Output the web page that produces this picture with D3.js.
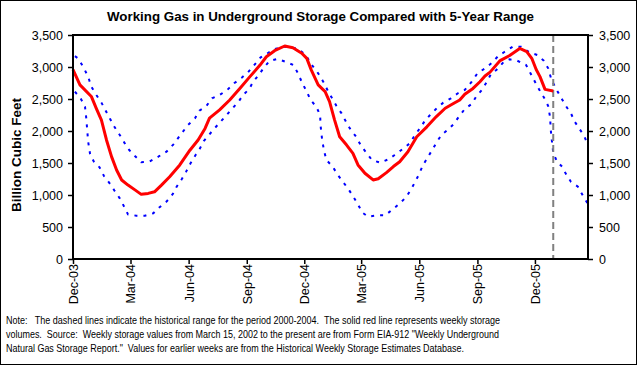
<!DOCTYPE html>
<html>
<head>
<meta charset="utf-8">
<script src="https://cdn.jsdelivr.net/npm/d3@7"></script>
<style>
  html, body { margin: 0; padding: 0; background: #fff; }
  svg { display: block; }
  text { font-family: "Liberation Sans", Arial, sans-serif; }
  .note { white-space: pre; }
</style>
</head>
<body>
<svg id="chart" width="638" height="366"></svg>
<script>
// ---------- DATA ----------
const titleText = "Working Gas in Underground Storage Compared with 5-Year Range";
const yAxisTitle = "Billion Cubic Feet";
const yTicks = [0, 500, 1000, 1500, 2000, 2500, 3000, 3500];
const xTickDates = ["2003-12-01","2004-03-01","2004-06-01","2004-09-01","2004-12-01","2005-03-01","2005-06-01","2005-09-01","2005-12-01"];
const xTickLabels = ["Dec-03","Mar-04","Jun-04","Sep-04","Dec-04","Mar-05","Jun-05","Sep-05","Dec-05"];
const xDomain = ["2003-12-01", "2006-02-23"];
const currentWeek = "2005-12-30";

const redDates = ["2003-12-01","2003-12-12","2003-12-30","2004-01-07","2004-01-15","2004-01-23","2004-01-31","2004-02-08","2004-02-16","2004-02-26","2004-03-08","2004-03-18","2004-03-29","2004-04-08","2004-04-19","2004-05-02","2004-05-18","2004-06-03","2004-06-16","2004-06-27","2004-07-04","2004-07-20","2004-08-05","2004-08-21","2004-09-06","2004-09-22","2004-10-02","2004-10-15","2004-10-31","2004-11-13","2004-11-27","2004-12-05","2004-12-12","2004-12-23","2005-01-03","2005-01-10","2005-01-18","2005-01-26","2005-02-06","2005-02-16","2005-02-24","2005-03-07","2005-03-20","2005-03-28","2005-04-10","2005-04-21","2005-05-01","2005-05-14","2005-05-28","2005-06-13","2005-06-28","2005-07-12","2005-07-25","2005-08-04","2005-08-12","2005-08-25","2005-09-05","2005-09-13","2005-09-21","2005-10-07","2005-10-22","2005-11-07","2005-11-18","2005-11-26","2005-12-03","2005-12-09","2005-12-17","2005-12-30"];
const redValues = [2960,2720,2540,2350,2170,1860,1600,1390,1235,1155,1080,1010,1025,1050,1155,1285,1470,1700,1860,2040,2200,2330,2485,2665,2850,3030,3160,3255,3328,3300,3215,3135,2955,2720,2615,2460,2170,1910,1780,1650,1470,1340,1235,1255,1350,1445,1520,1675,1910,2065,2225,2355,2430,2485,2575,2665,2770,2860,2920,3100,3180,3290,3240,3136,2960,2850,2650,2625];

const upperDates = ["2003-12-04","2003-12-09","2003-12-17","2003-12-25","2003-12-30","2004-01-07","2004-01-15","2004-01-22","2004-01-29","2004-02-05","2004-02-13","2004-02-21","2004-02-28","2004-03-08","2004-03-18","2004-03-31","2004-04-14","2004-04-27","2004-05-08","2004-05-15","2004-05-23","2004-05-31","2004-06-11","2004-06-18","2004-06-29","2004-07-08","2004-07-20","2004-08-01","2004-08-12","2004-08-24","2004-09-03","2004-09-12","2004-09-23","2004-10-02","2004-10-15","2004-10-31","2004-11-17","2004-11-27","2004-12-05","2004-12-13","2004-12-23","2004-12-31","2005-01-08","2005-01-15","2005-01-21","2005-01-29","2005-02-05","2005-02-12","2005-02-21","2005-03-01","2005-03-10","2005-03-18","2005-03-31","2005-04-13","2005-04-23","2005-05-07","2005-05-17","2005-05-25","2005-06-02","2005-06-10","2005-06-18","2005-06-27","2005-07-09","2005-07-21","2005-08-01","2005-08-12","2005-08-23","2005-09-01","2005-09-13","2005-09-23","2005-10-04","2005-10-13","2005-10-27","2005-11-09","2005-11-23","2005-12-05","2005-12-15","2005-12-22","2005-12-27","2006-01-03","2006-01-12","2006-01-19","2006-01-27","2006-02-02","2006-02-10","2006-02-17","2006-02-23"];
const upperValues = [3170,3136,3005,2849,2693,2562,2443,2312,2183,2058,1937,1807,1703,1609,1511,1521,1599,1677,1792,1886,1990,2094,2198,2318,2390,2511,2562,2641,2745,2833,2917,3021,3151,3203,3281,3318,3292,3239,3161,3031,2901,2771,2614,2495,2390,2276,2145,2026,1911,1766,1651,1547,1505,1557,1625,1729,1807,1937,2042,2161,2250,2339,2443,2511,2589,2641,2771,2901,2979,3057,3172,3230,3318,3318,3224,3187,3099,2979,2807,2667,2511,2390,2276,2145,2026,1922,1781];

const lowerDates = ["2003-12-04","2003-12-13","2003-12-20","2003-12-22","2003-12-25","2003-12-28","2004-01-03","2004-01-12","2004-01-19","2004-01-28","2004-02-05","2004-02-13","2004-02-20","2004-02-26","2004-03-10","2004-03-24","2004-04-06","2004-04-15","2004-04-27","2004-05-07","2004-05-13","2004-05-21","2004-05-28","2004-06-04","2004-06-12","2004-06-19","2004-06-25","2004-07-03","2004-07-12","2004-07-23","2004-07-31","2004-08-08","2004-08-19","2004-08-26","2004-09-05","2004-09-11","2004-09-20","2004-09-28","2004-10-07","2004-10-19","2004-11-01","2004-11-14","2004-11-21","2004-11-28","2004-12-05","2004-12-11","2004-12-20","2004-12-26","2004-12-27","2004-12-29","2005-01-01","2005-01-05","2005-01-15","2005-01-22","2005-01-31","2005-02-08","2005-02-15","2005-02-23","2005-03-03","2005-03-12","2005-03-27","2005-04-08","2005-04-20","2005-04-30","2005-05-11","2005-05-20","2005-05-31","2005-06-07","2005-06-15","2005-06-23","2005-06-29","2005-07-06","2005-07-17","2005-07-25","2005-08-02","2005-08-12","2005-08-23","2005-08-30","2005-09-08","2005-09-16","2005-09-23","2005-10-01","2005-10-13","2005-10-22","2005-11-03","2005-11-17","2005-11-24","2005-12-01","2005-12-09","2005-12-17","2005-12-22","2005-12-25","2005-12-26","2005-12-28","2005-12-30","2006-01-05","2006-01-13","2006-01-20","2006-01-27","2006-02-07","2006-02-15","2006-02-23"];
const lowerValues = [2614,2511,2380,2198,1833,1641,1521,1432,1297,1182,1063,948,817,698,677,677,714,802,896,1016,1130,1245,1365,1495,1625,1729,1844,1937,2042,2161,2250,2339,2458,2562,2656,2771,2875,2990,3094,3125,3083,3031,2901,2745,2614,2484,2380,2250,2067,1886,1703,1547,1443,1328,1208,1104,1000,870,724,661,682,682,776,859,964,1104,1312,1469,1599,1729,1833,1937,2026,2104,2214,2344,2422,2536,2641,2771,2901,2953,3083,3120,3099,3031,2901,2771,2625,2495,2390,2214,2026,1833,1661,1521,1443,1312,1208,1130,989,859];

const noteLines = [
  "Note:   The dashed lines indicate the historical range for the period 2000-2004.  The solid red line represents weekly storage",
  "volumes.  Source:  Weekly storage values from March 15, 2002 to the present are from Form EIA-912 \"Weekly Underground",
  "Natural Gas Storage Report.\"  Values for earlier weeks are from the Historical Weekly Storage Estimates Database."
];
const noteWidths = [494, 493, 458];

// ---------- CHART ----------
const parse = d3.timeParse("%Y-%m-%d");
const svg = d3.select("#chart");
const W = 638, H = 366;
const plot = {left: 73, right: 588, top: 35, bottom: 259};

svg.append("rect").attr("x", 0).attr("y", 0).attr("width", W).attr("height", H).attr("fill", "#fff");
svg.append("rect").attr("x", 0.5).attr("y", 0.5).attr("width", 636).attr("height", 364)
  .attr("fill", "none").attr("stroke", "#000").attr("stroke-width", 1);

const x = d3.scaleTime().domain(xDomain.map(parse)).range([plot.left, plot.right]);
const y = d3.scaleLinear().domain([0, 3500]).range([plot.bottom, plot.top]);

// Title
svg.append("text").attr("x", 107).attr("y", 21)
  .attr("font-size", 13).attr("font-weight", "bold")
  .attr("textLength", 427).attr("lengthAdjust", "spacingAndGlyphs").text(titleText);

// Y axis title
svg.append("text").attr("transform", "translate(21,155) rotate(-90)").attr("text-anchor", "middle")
  .attr("font-size", 13.5).attr("font-weight", "bold").text(yAxisTitle);

// Axes
const leftAxis = d3.axisLeft(y).tickValues(yTicks).tickFormat(d3.format(",")).tickSize(5).tickPadding(5);
const rightAxis = d3.axisRight(y).tickValues(yTicks).tickFormat(d3.format(",")).tickSize(5).tickPadding(6);
const bottomAxis = d3.axisBottom(x).tickValues(xTickDates.map(parse))
  .tickFormat((d, i) => xTickLabels[i]).tickSize(5);

function styleAxis(g) {
  g.select(".domain").remove();
  g.selectAll(".tick line").attr("stroke", "#000").attr("stroke-width", 1.5);
  g.selectAll(".tick text").attr("font-size", 12.5).attr("fill", "#000")
    .attr("font-family", "'Liberation Sans', Arial, sans-serif");
}
svg.append("g").attr("transform", `translate(${plot.left},0)`).call(leftAxis).call(styleAxis);
svg.append("g").attr("transform", `translate(${plot.right},0)`).call(rightAxis).call(styleAxis);
const gx = svg.append("g").attr("transform", `translate(0,${plot.bottom})`).call(bottomAxis).call(styleAxis);
gx.selectAll(".tick text")
  .attr("text-anchor", "end")
  .attr("transform", "rotate(-90)")
  .attr("x", -5).attr("y", 0).attr("dy", "0.35em");

// Series lines
const line = d3.line().x(d => x(d[0])).y(d => y(d[1]));
const toPts = (ds, vs) => ds.map((d, i) => [parse(d), vs[i]]);

svg.append("path").datum(toPts(upperDates, upperValues)).attr("d", line)
  .attr("fill", "none").attr("stroke", "#0000ff").attr("stroke-width", 2).attr("stroke-dasharray", "3,6");
svg.append("path").datum(toPts(lowerDates, lowerValues)).attr("d", line)
  .attr("fill", "none").attr("stroke", "#0000ff").attr("stroke-width", 2).attr("stroke-dasharray", "3,6");

// Current week marker
svg.append("line").attr("x1", x(parse(currentWeek))).attr("x2", x(parse(currentWeek)))
  .attr("y1", plot.top).attr("y2", plot.bottom)
  .attr("stroke", "#808080").attr("stroke-width", 2).attr("stroke-dasharray", "7,4");

svg.append("path").datum(toPts(redDates, redValues)).attr("d", line)
  .attr("fill", "none").attr("stroke", "#ff0000").attr("stroke-width", 3).attr("stroke-linejoin", "round");

// Plot frame
svg.append("rect").attr("x", plot.left).attr("y", plot.top)
  .attr("width", plot.right - plot.left).attr("height", plot.bottom - plot.top)
  .attr("fill", "none").attr("stroke", "#000").attr("stroke-width", 2);

// Note
noteLines.forEach((t, i) => {
  svg.append("text").attr("class", "note").attr("x", 6).attr("y", 324 + i * 14).attr("font-size", 11)
    .attr("textLength", noteWidths[i]).attr("lengthAdjust", "spacingAndGlyphs").text(t);
});
</script>
</body>
</html>
